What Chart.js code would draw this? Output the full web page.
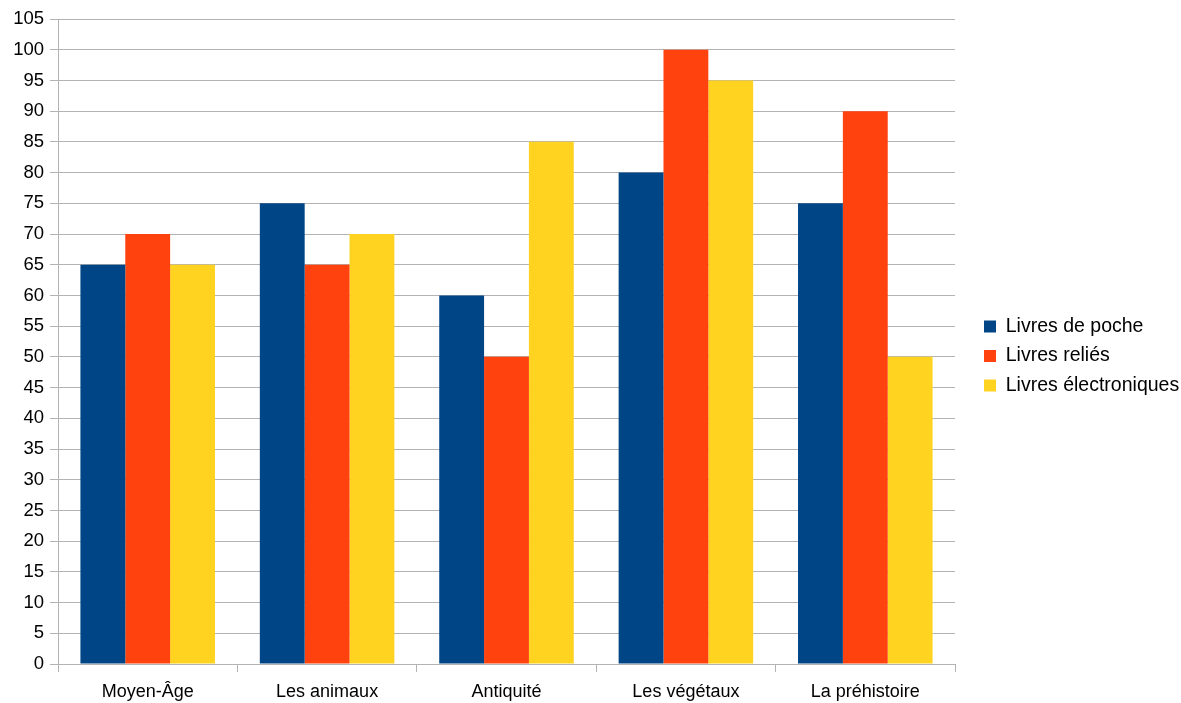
<!DOCTYPE html>
<html>
<head>
<meta charset="utf-8">
<script src="https://cdn.jsdelivr.net/npm/chart.js@4"></script>
<style>
  html, body { margin: 0; padding: 0; background: #fff; }
  #wrap { width: 1181px; height: 703px; }
</style>
</head>
<body>
<div id="wrap"><canvas id="chart" width="1181" height="703"></canvas></div>
<script>
const categories = ['Moyen-Âge', 'Les animaux', 'Antiquité', 'Les végétaux', 'La préhistoire'];
const livresPoche = [65, 75, 60, 80, 75];
const livresRelies = [70, 65, 50, 100, 90];
const livresElectroniques = [65, 70, 85, 95, 50];

const gridGray = '#b3b3b3';
const axisFont = { family: '"Liberation Sans", Arial, sans-serif', size: 18 };
const legendFont = { family: '"Liberation Sans", Arial, sans-serif', size: 19.5 };

// nudge the legend up a bit, the reference centres it slightly above the middle
const legendShift = {
  id: 'legendShift',
  afterLayout(chart) {
    chart.legend.top -= 5;
    chart.legend.bottom -= 5;
  },
};

const ctx = document.getElementById('chart').getContext('2d');
const chart = new Chart(ctx, {
  type: 'bar',
  data: {
    labels: categories,
    datasets: [
      { label: 'Livres de poche', data: livresPoche, backgroundColor: '#004586' },
      { label: 'Livres reliés', data: livresRelies, backgroundColor: '#ff420e' },
      { label: 'Livres électroniques', data: livresElectroniques, backgroundColor: '#ffd320' },
    ],
  },
  plugins: [legendShift],
  options: {
    responsive: false,
    animation: false,
    layout: { padding: { top: 19, left: 0, right: 0, bottom: 0 } },
    datasets: { bar: { barPercentage: 1, categoryPercentage: 0.75 } },
    plugins: {
      tooltip: { enabled: false },
      legend: {
        position: 'right',
        labels: {
          color: '#000',
          font: legendFont,
          boxWidth: 12,
          boxHeight: 12,
          padding: 10,
        },
      },
    },
    scales: {
      x: {
        grid: {
          offset: true,
          color: (c) => (c.index === 0 || c.index === categories.length ? gridGray : 'transparent'),
          tickColor: gridGray,
          tickLength: 8,
        },
        border: { color: gridGray },
        ticks: { color: '#000', font: axisFont, padding: 9 },
        afterFit: (scale) => { scale.height = 39; },
      },
      y: {
        min: 0,
        max: 105,
        grid: { color: gridGray, tickColor: gridGray, tickLength: 8 },
        border: { color: gridGray },
        ticks: { stepSize: 5, color: '#000', font: { ...axisFont, size: 18.5 }, padding: 6 },
        afterFit: (scale) => { scale.width = 58; },
      },
      // empty spacer between the plot and the legend
      gap: {
        type: 'linear',
        position: 'right',
        display: true,
        grid: { display: false, drawTicks: false },
        border: { display: false },
        ticks: { display: false },
        afterFit: (scale) => { scale.width = 19; },
      },
    },
  },
});

// fixed legend width so the plot ends where the reference does
const fitLegend = chart.legend.fit;
chart.legend.fit = function () {
  fitLegend.call(this);
  this.width = 207;
};
chart.update();
</script>
</body>
</html>
